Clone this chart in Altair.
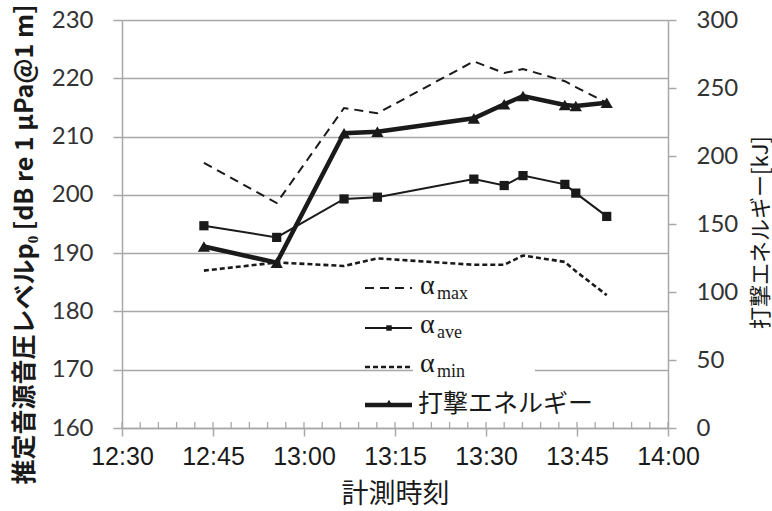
import altair as alt
import pandas as pd

# ---- data ----
times = ["12:43:30", "12:55:30", "13:06:36", "13:12:06", "13:28:00",
         "13:33:00", "13:36:06", "13:43:00", "13:44:48", "13:49:54"]
alpha_max = [205.5, 198.6, 214.9, 214.0, 222.9, 220.9, 221.6, 219.5, 218.5, 215.8]
alpha_ave = [194.7, 192.7, 199.3, 199.6, 202.7, 201.6, 203.3, 201.8, 200.3, 196.3]
alpha_min = [187.0, 188.4, 187.8, 189.1, 188.0, 188.0, 189.6, 188.5, 186.9, 182.8]
energy_kj = [133.5, 121.5, 216.7, 217.9, 227.7, 238.0, 244.1, 237.5, 236.8, 239.2]
x_tick_labels = ["12:30", "12:45", "13:00", "13:15", "13:30", "13:45", "14:00"]
left_ticks = [160, 170, 180, 190, 200, 210, 220, 230]
right_ticks = [0, 50, 100, 150, 200, 250, 300]


def to_min(t):
    parts = [int(p) for p in t.split(":")]
    while len(parts) < 3:
        parts.append(0)
    return parts[0] * 60 + parts[1] + parts[2] / 60.0


df = pd.DataFrame({
    "m": [to_min(t) for t in times],
    "amax": alpha_max,
    "aave": alpha_ave,
    "amin": alpha_min,
    "energy": energy_kj,
})
x_vals = [to_min(t) for t in x_tick_labels]
minor = pd.DataFrame({"m": list(range(int(x_vals[0]), int(x_vals[-1]) + 1, 3))})

GRAY = "#a8a8a8"
INK = "#1a1a1a"
CJK = "Noto Sans CJK JP"

x_axis = alt.Axis(
    values=x_vals,
    labelExpr="format(floor(datum.value/60),'d') + ':' + format(datum.value % 60,'02d')",
    title="計測時刻", titleFont=CJK, titleFontSize=27, titleFontWeight="normal",
    titleColor=INK, titleY=66, titleBaseline="middle",
    labelFont="Liberation Sans", labelFontSize=25, labelColor=INK,
    labelPadding=8, labelFlush=False,
    tickSize=8, tickColor=GRAY, tickWidth=1.5,
    domainColor=GRAY, domainWidth=1.5, grid=False,
)
X = alt.X("m:Q", scale=alt.Scale(domain=[x_vals[0], x_vals[-1]], nice=False, zero=False), axis=x_axis)

left_scale = alt.Scale(domain=[160, 230], nice=False, zero=False)
left_axis = alt.Axis(
    values=left_ticks,
    title="推定音源音圧レベルp₀ [dB re 1 μPa@1 m]",
    titleFont=CJK, titleFontWeight="bold", titleFontSize=25, titleColor=INK,
    titleAngle=270, titleX=-98, titleY=224, titleAlign="center", titleBaseline="middle",
    labelFont="Lato", labelFontSize=24, labelColor="#333333", labelPadding=20,
    tickSize=9, tickColor=GRAY, tickWidth=1.5,
    domainColor=GRAY, domainWidth=1.5,
    grid=True, gridColor=GRAY, gridWidth=1.3,
)
right_axis = alt.Axis(
    orient="right", values=right_ticks,
    title="打撃エネルギー[kJ]",
    titleFont=CJK, titleFontWeight="normal", titleFontSize=22, titleColor=INK,
    titleAngle=270, titleX=92, titleY=212, titleAlign="center", titleBaseline="middle",
    labelFont="Lato", labelFontSize=24, labelColor="#333333", labelPadding=20,
    tickSize=8, tickColor=GRAY, tickWidth=1.5,
    domainColor=GRAY, domainWidth=1.5, grid=False,
)

base = alt.Chart(df)

minor_ticks = alt.Chart(minor).mark_rule(color=GRAY, strokeWidth=1.3).encode(
    x=X, y=alt.value(402), y2=alt.value(408))

white_box = alt.Chart(pd.DataFrame({"k": [0]})).mark_rect(color="white").encode(
    x=alt.value(291), x2=alt.value(413), y=alt.value(337), y2=alt.value(362))

max_line = base.mark_line(color=INK, strokeWidth=2, strokeDash=[9, 6]).encode(
    x=X, y=alt.Y("amax:Q", scale=left_scale, axis=left_axis))
min_line = base.mark_line(color=INK, strokeWidth=2.6, strokeDash=[5, 3]).encode(
    x=X, y=alt.Y("amin:Q", scale=left_scale, axis=left_axis))
ave_line = base.mark_line(color=INK, strokeWidth=2).encode(
    x=X, y=alt.Y("aave:Q", scale=left_scale, axis=left_axis))
ave_pts = base.mark_point(shape="square", filled=True, size=85, color=INK, opacity=1).encode(
    x=X, y=alt.Y("aave:Q", scale=left_scale, axis=left_axis))
left_group = alt.layer(max_line, min_line, ave_line, ave_pts)

right_scale = alt.Scale(domain=[0, 300], nice=False, zero=False)
en_line = base.mark_line(color=INK, strokeWidth=4.5).encode(
    x=X, y=alt.Y("energy:Q", scale=right_scale, axis=right_axis))
en_pts = base.mark_point(shape="triangle-up", filled=True, size=150, color=INK, opacity=1).encode(
    x=X, y=alt.Y("energy:Q", scale=right_scale, axis=right_axis))
right_group = alt.layer(en_line, en_pts)

# ---- hand-made legend inside the plot ----
one = pd.DataFrame({"k": [0]})


def sym_line(y, dash, width):
    kw = dict(color=INK, strokeWidth=width)
    if dash:
        kw["strokeDash"] = dash
    return alt.Chart(one).mark_rule(**kw).encode(
        x=alt.value(243), x2=alt.value(290), y=alt.value(y), y2=alt.value(y))


def txt(s, x, y, font, size):
    return alt.Chart(pd.DataFrame({"t": [s]})).mark_text(
        font=font, fontSize=size, color=INK, align="left", baseline="middle").encode(
        text="t:N", x=alt.value(x), y=alt.value(y))


legend_layers = [
    sym_line(268, [9, 6], 2), txt("α", 298, 266, "Liberation Serif", 28), txt("max", 315, 274, "Liberation Serif", 18),
    sym_line(308, None, 2),
    alt.Chart(one).mark_point(shape="square", filled=True, size=30, color=INK, opacity=1).encode(
        x=alt.value(267), y=alt.value(308)),
    txt("α", 298, 305, "Liberation Serif", 28), txt("ave", 315, 313, "Liberation Serif", 18),
    sym_line(347, [5, 3], 2.6), txt("α", 298, 344, "Liberation Serif", 28), txt("min", 315, 352, "Liberation Serif", 18),
    sym_line(385, None, 4.5),
    alt.Chart(one).mark_point(shape="triangle-up", filled=True, size=60, color=INK, opacity=1).encode(
        x=alt.value(267), y=alt.value(383)),
    txt("打撃エネルギー", 296, 384, CJK, 25),
]

chart = alt.layer(minor_ticks, white_box, left_group, right_group, *legend_layers).resolve_scale(
    y="independent"
).properties(
    width=546, height=408,
    autosize=alt.AutoSizeParams(type="none"),
    padding={"left": 122, "top": 20, "right": 104, "bottom": 83},
    background="white",
).configure_view(stroke=None)

chart.save("out.html", embed_options={"renderer": "svg", "actions": False})
